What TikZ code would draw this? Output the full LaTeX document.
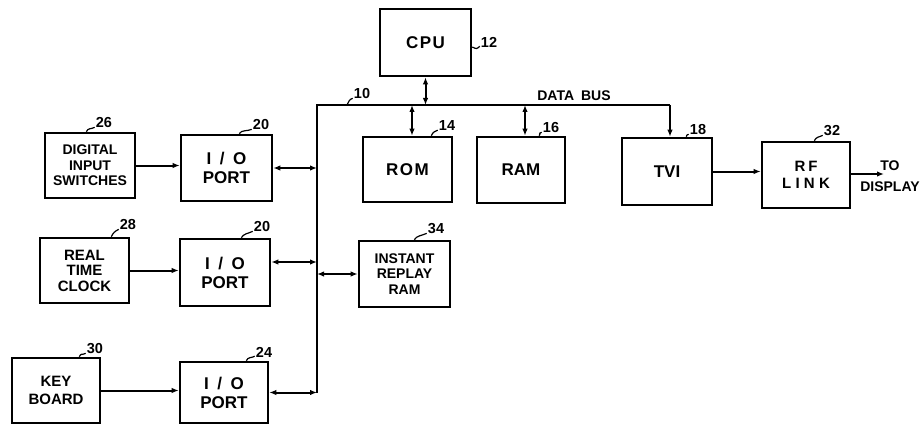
\documentclass[tikz,border=0pt]{standalone}
\usepackage{fontspec}
\setmainfont{Liberation Sans}
\usetikzlibrary{arrows.meta}
\newcommand\fbig{\fontsize{17}{19}\selectfont\bfseries}
\newcommand\fmid{\fontsize{15}{15.5}\selectfont\bfseries}
\newcommand\fsml{\fontsize{14}{15.5}\selectfont\bfseries}
\newcommand\fnum{\fontsize{14.5}{15}\selectfont\bfseries}
\begin{document}
\begin{tikzpicture}[x=1pt,y=-1pt,
  box/.style={draw, line width=2.6pt, align=center, inner sep=0pt},
  wire/.style={line width=2pt},
  ar/.style={line width=2pt, -{Latex[length=7pt,width=5.5pt]}},
  dar/.style={line width=2pt, {Latex[length=7pt,width=5.5pt]}-{Latex[length=7pt,width=5.5pt]}},
  num/.style={font=\fnum, inner sep=0pt},
  leader/.style={line width=1.2pt}]
\useasboundingbox (0,0) rectangle (920,425);
% boxes
\node[box, minimum width=91pt, minimum height=67pt, font=\fbig] (cpu) at (425.5,42.5) {C\kern1.5pt P\kern1.5pt U};
\node[box, minimum width=89pt, minimum height=65pt, font=\fbig] (rom) at (407.5,169.5) {R\kern1.5pt O\kern1.5pt M};
\node[box, minimum width=88pt, minimum height=66pt, font=\fbig] (ram) at (521,170) {RAM};
\node[box, minimum width=90pt, minimum height=67pt, font=\fbig] (tvi) at (667,171.5) {TVI};
\node[box, minimum width=88pt, minimum height=66pt, font=\fmid, execute at begin node={\setlength{\baselineskip}{17.5pt}}] (rf) at (806,175) {R\kern3pt F\\L\kern4.3pt I\kern4.3pt N\kern4.3pt K};
\node[box, minimum width=90pt, minimum height=65pt, font=\fsml] (dis) at (90,165.5) {DIGITAL\\INPUT\\SWITCHES};
\node[box, minimum width=91pt, minimum height=66pt, font=\fbig] (io1) at (226.5,168) {I\enspace/\enspace O\\PORT};
\node[box, minimum width=89pt, minimum height=65pt, font=\fmid] (rtc) at (84.5,270.5) {REAL\\TIME\\CLOCK};
\node[box, minimum width=90pt, minimum height=67pt, font=\fbig] (io2) at (225,272.5) {I\enspace/\enspace O\\PORT};
\node[box, minimum width=91pt, minimum height=66pt, font=\fsml] (irr) at (404.5,274) {INSTANT\\REPLAY\\RAM};
\node[box, minimum width=88pt, minimum height=65pt, font=\fmid, execute at begin node={\setlength{\baselineskip}{18pt}}] (kb) at (56,390.5) {KEY\\BOARD};
\node[box, minimum width=88pt, minimum height=61pt, font=\fbig] (io3) at (224,392.5) {I\enspace/\enspace O\\PORT};
% bus
\coordinate (btl) at (317,105);
\coordinate (btr) at (670,105);
\coordinate (trom) at (412,105);
\coordinate (tram) at (525,105);
\coordinate (tio2) at (317,262);
\coordinate (out) at (884,174);
\draw[wire] (io3.east -| btl) -- (btl) -- (btr);
\draw[dar] (cpu.south) -- (cpu.south |- btl);
\draw[dar] (trom) -- (trom |- rom.north);
\draw[dar] (tram) -- (tram |- ram.north);
\draw[ar] (btr) -- (btr |- tvi.north);
\draw[dar] (io1.east) -- (io1.east -| btl);
\draw[dar] (tio2 -| io2.east) -- (tio2);
\draw[dar] (irr.west -| btl) -- (irr.west);
\draw[dar] (io3.east) -- (io3.east -| btl);
\draw[ar] (dis.east) -- (dis.east -| io1.west);
\draw[ar] (rtc.east) -- (rtc.east -| io2.west);
\draw[ar] (kb.east) -- (kb.east -| io3.west);
\draw[ar] (tvi.east) -- (tvi.east -| rf.west);
\draw[ar] ([yshift=1pt]rf.east) -- (out);
% texts
\node[font=\fsml, align=center, inner sep=0pt] (todisp) at (890,176) {TO\\[5pt]DISPLAY};
\node[font=\fsml, inner sep=0pt] (dbus) at (574,96) {DATA\hspace{7pt}BUS};
% reference numerals
\node[num] (l12) at (489,42) {12};
\node[num] (l10) at (362,94) {10};
\node[num] (l14) at (447,126) {14};
\node[num] (l16) at (551,128) {16};
\node[num] (l18) at (698,130) {18};
\node[num] (l32) at (832,131) {32};
\node[num] (l26) at (104,123) {26};
\node[num] (l20a) at (261,125) {20};
\node[num] (l28) at (128,225) {28};
\node[num] (l20b) at (262,227) {20};
\node[num] (l30) at (95,349) {30};
\node[num] (l24) at (264,352) {24};
\node[num] (l34) at (436,229) {34};
% leaders
\draw[leader] ([yshift=-4.5pt]cpu.east) .. controls +(4,2) and +(-3,3) .. ([xshift=-1pt,yshift=1pt]l12.south west);
\draw[leader] (347,105) .. controls +(2,-3) and +(-4,1) .. ([xshift=-1pt,yshift=1pt]l10.south west);
\draw[leader] ([xshift=-22pt]rom.north east) .. controls +(2,-4) and +(-4,2) .. ([xshift=-1pt,yshift=1pt]l14.south west);
\draw[leader] ([xshift=-27pt]ram.north east) .. controls +(2,-4) and +(-4,2) .. ([xshift=-1pt,yshift=1pt]l16.south west);
\draw[leader] ([xshift=-27pt]tvi.north east) .. controls +(2,-4) and +(-4,2) .. ([xshift=-1pt,yshift=1pt]l18.south west);
\draw[leader] ([xshift=-37pt]rf.north east) .. controls +(2,-4) and +(-4,2) .. ([xshift=-1pt,yshift=1pt]l32.south west);
\draw[leader] ([xshift=-50pt]dis.north east) .. controls +(2,-4) and +(-4,2) .. ([xshift=-1pt,yshift=1pt]l26.south west);
\draw[leader] ([xshift=-34pt]io1.north east) .. controls +(2,-4) and +(-4,2) .. ([xshift=-1pt,yshift=1pt]l20a.south west);
\draw[leader] ([xshift=-19pt]rtc.north east) .. controls +(2,-4) and +(-4,2) .. ([xshift=-1pt,yshift=1pt]l28.south west);
\draw[leader] ([xshift=-30pt]io2.north east) .. controls +(2,-4) and +(-4,2) .. ([xshift=-1pt,yshift=1pt]l20b.south west);
\draw[leader] ([xshift=-22pt]kb.north east) .. controls +(2,-4) and +(-4,2) .. ([xshift=-1pt,yshift=1pt]l30.south west);
\draw[leader] ([xshift=-23pt]io3.north east) .. controls +(2,-4) and +(-4,2) .. ([xshift=-1pt,yshift=1pt]l24.south west);
\draw[leader] ([xshift=-37pt]irr.north east) .. controls +(2,-4) and +(-4,2) .. ([xshift=-1pt,yshift=1pt]l34.south west);
\end{tikzpicture}
\end{document}
